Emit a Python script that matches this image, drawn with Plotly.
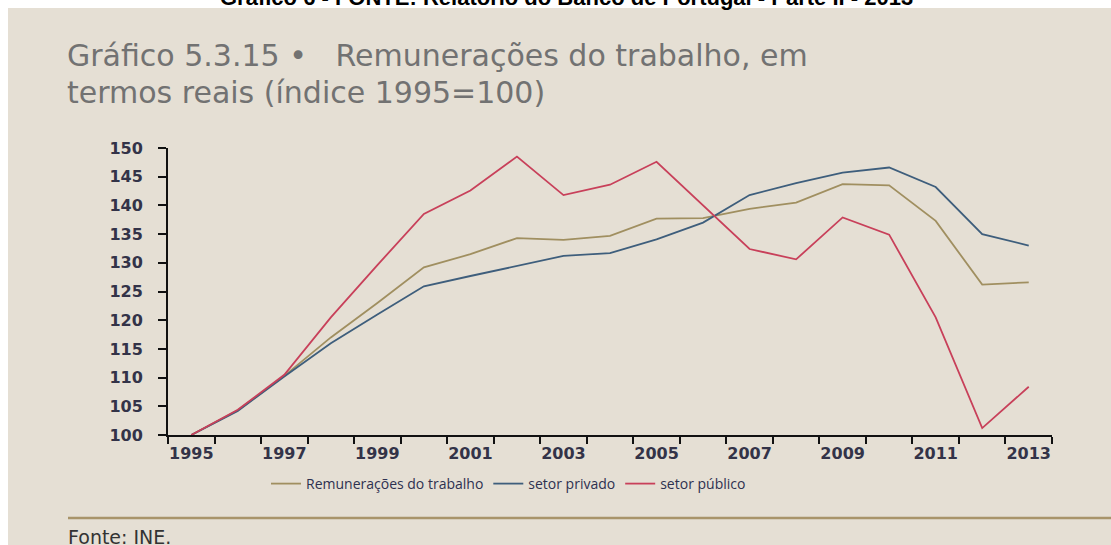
import plotly.graph_objects as go

years = list(range(1995, 2014))
remuneracoes = [100, 104.3, 110.3, 117.0, 123.0, 129.2, 131.5, 134.3, 134.0, 134.7, 137.7, 137.8,
                139.4, 140.5, 143.7, 143.5, 137.3, 126.2, 126.6]
privado = [100, 104.2, 110.2, 116.0, 121.0, 125.9, 127.7, 129.4, 131.2, 131.7, 134.1, 137.0,
           141.8, 143.9, 145.7, 146.6, 143.2, 135.0, 133.0]
publico = [100, 104.4, 110.5, 120.5, 129.6, 138.5, 142.6, 148.5, 141.8, 143.6, 147.6, 140.0,
           132.4, 130.6, 137.9, 134.9, 120.5, 101.2, 108.4]
series_names = ["Remunerações do trabalho", "setor privado", "setor público"]
series_colors = ["#A08F60", "#3E5E7C", "#C8405A"]
tick_years = [y for y in years if y % 2 == 1]

W, H = 1111, 545
L, R, T, B = 168, 1052, 148, 435  # plot area in pixels


def px_x(p):
    return (p - L) / (R - L)


def px_y(p):
    return (B - p) / (B - T)


fig = go.Figure()
for name, vals, col in zip(series_names, [remuneracoes, privado, publico], series_colors):
    fig.add_trace(go.Scatter(x=years, y=vals, name=name, mode="lines",
                             line=dict(color=col, width=1.8)))

beige = "#E5DFD4"
title_font = dict(family="DejaVu Sans", size=30, color="#727272")
fig.update_layout(
    width=W, height=H, autosize=False,
    margin=dict(l=L, r=W - R, t=T, b=H - B, pad=0),
    paper_bgcolor="white",
    plot_bgcolor="rgba(0,0,0,0)",
    showlegend=True,
    legend=dict(orientation="h", x=px_x(266), y=px_y(468), xanchor="left", yanchor="top",
                font=dict(family="Open Sans", size=14, color="#2E3150"),
                bgcolor="rgba(0,0,0,0)", itemwidth=30, tracegroupgap=0),
    shapes=[
        dict(type="rect", xref="paper", yref="paper", layer="below",
             x0=px_x(8), x1=px_x(W + 2), y0=px_y(H + 2), y1=px_y(8),
             fillcolor=beige, line=dict(width=0)),
        dict(type="line", xref="paper", yref="paper",
             x0=px_x(68), x1=px_x(W + 2), y0=px_y(518), y1=px_y(518),
             line=dict(color="#A8946A", width=2.5)),
    ],
    annotations=[
        dict(text="Gráfico 6 - FONTE: Relatório do Banco de Portugal - Parte II - 2013",
             xref="paper", yref="paper", x=px_x(566), y=px_y(-3), xanchor="center", yanchor="middle",
             showarrow=False, font=dict(family="Liberation Sans", size=22, color="black", weight="bold")),
        dict(text="Gráfico 5.3.15 •   Remunerações do trabalho, em",
             xref="paper", yref="paper", x=px_x(66), y=px_y(55), xanchor="left", yanchor="middle",
             showarrow=False, font=title_font, borderpad=0),
        dict(text="termos reais (índice 1995=100)",
             xref="paper", yref="paper", x=px_x(66), y=px_y(92), xanchor="left", yanchor="middle",
             showarrow=False, font=title_font, borderpad=0),
        dict(text="Fonte: INE.", xref="paper", yref="paper", x=px_x(66), y=px_y(524),
             xanchor="left", yanchor="top", showarrow=False,
             font=dict(family="DejaVu Sans", size=19, color="#333333")),
    ],
)

fig.update_xaxes(range=[years[0] - 0.5, years[-1] + 0.5], tickmode="array", tickvals=tick_years,
                 ticktext=[str(y) for y in tick_years], ticks="", showgrid=False, zeroline=False,
                 showline=True, linecolor="#111111", linewidth=2,
                 tickfont=dict(family="DejaVu Sans", size=16, color="#333348", weight="bold"),
                 ticklabelstandoff=3,
                 minor=dict(tickmode="array", tickvals=[y - 0.5 for y in years] + [years[-1] + 0.5],
                            ticks="outside", ticklen=7, tickwidth=2, tickcolor="#111111", showgrid=False))
fig.update_yaxes(range=[100, 150], tickmode="linear", tick0=100, dtick=5, ticks="outside",
                 ticklen=8, tickwidth=2, tickcolor="#111111", showgrid=False, zeroline=False,
                 showline=True, linecolor="#111111", linewidth=2,
                 tickfont=dict(family="DejaVu Sans", size=16, color="#333348", weight="bold"),
                 ticklabelstandoff=12)

fig.write_html("out.html", config={"displayModeBar": False},
               post_script=["document.body.style.margin='0';"])
